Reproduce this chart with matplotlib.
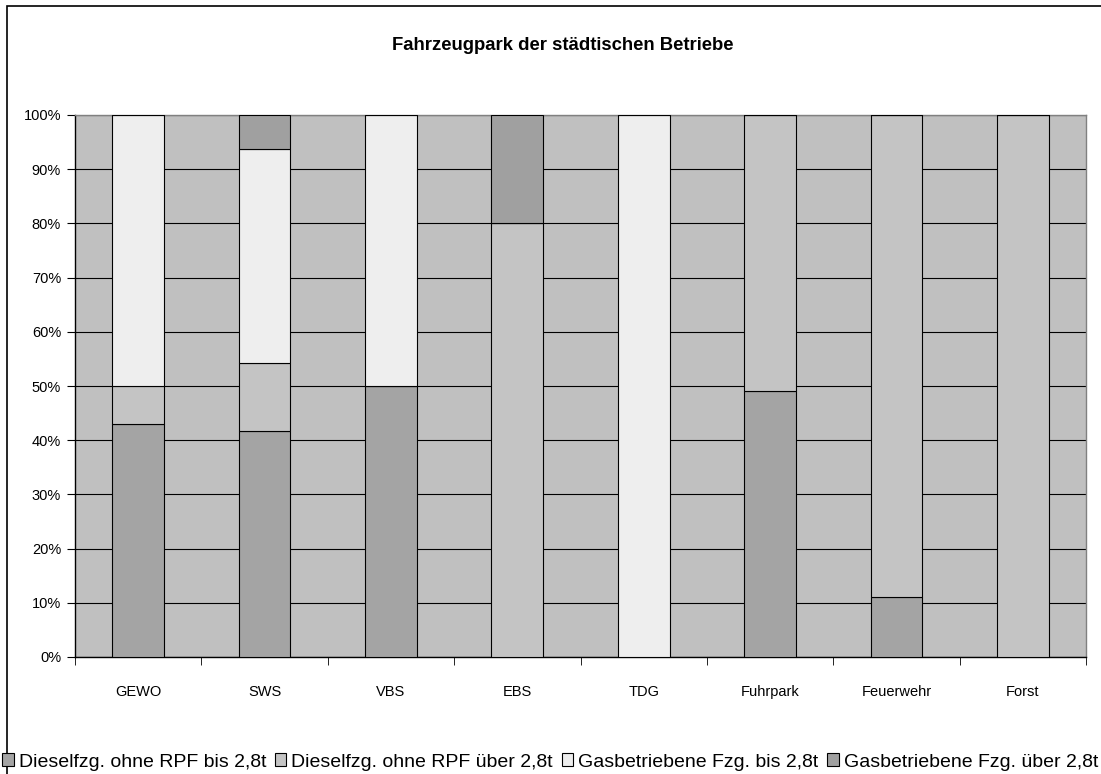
import numpy as np
import matplotlib.pyplot as plt
from matplotlib.patches import Rectangle

plt.rcParams['font.family'] = ['Liberation Sans', 'DejaVu Sans']

# Daten (Anteile in %)
betriebe = ['GEWO', 'SWS', 'VBS', 'EBS', 'TDG', 'Fuhrpark', 'Feuerwehr', 'Forst']
diesel_bis = [42.9, 41.7, 50.0, 0.0, 0.0, 49.0, 11.1, 0.0]
diesel_ueber = [7.1, 12.5, 0.0, 80.0, 0.0, 51.0, 88.9, 100.0]
gas_bis = [50.0, 39.6, 50.0, 0.0, 100.0, 0.0, 0.0, 0.0]
gas_ueber = [0.0, 6.2, 0.0, 20.0, 0.0, 0.0, 0.0, 0.0]

serien = ['Dieselfzg. ohne RPF bis 2,8t', 'Dieselfzg. ohne RPF über 2,8t',
          'Gasbetriebene Fzg. bis 2,8t', 'Gasbetriebene Fzg. über 2,8t']
farben = ['#a4a4a4', '#c4c4c4', '#eeeeee', '#a0a0a0']

fig = plt.figure(figsize=(11.01, 7.74), dpi=100)
ax = fig.add_axes([75/1101, 117/774, 1011/1101, 542/774])
ax.set_facecolor('#c0c0c0')

x = np.arange(len(betriebe))
unten = np.zeros(len(betriebe))
for werte, name, farbe in zip([diesel_bis, diesel_ueber, gas_bis, gas_ueber], serien, farben):
    ax.bar(x, werte, 0.41, bottom=unten, color=farbe, edgecolor='black', linewidth=0.8,
           label=name, zorder=3)
    unten += np.array(werte)

ax.set_xlim(-0.5, len(betriebe) - 0.5)
ax.set_ylim(0, 100)
ax.set_yticks(np.arange(0, 101, 10))
ax.set_yticklabels([f'{v}%' for v in range(0, 101, 10)], fontsize=10.5)
ax.yaxis.grid(True, color='black', linewidth=0.8, zorder=0)
ax.set_axisbelow(True)

ax.set_xticks(x)
ax.set_xticklabels(betriebe, fontsize=10.5)
ax.tick_params(axis='x', length=0, pad=20)
ax.set_xticks(np.arange(-0.5, len(betriebe), 1), minor=True)
ax.tick_params(axis='x', which='minor', length=6, direction='out', color='black')
ax.tick_params(axis='y', length=6, direction='out', color='black', pad=4)

for s in ['top', 'right']:
    ax.spines[s].set_color('#808080')
    ax.spines[s].set_linewidth(1)
for s in ['left', 'bottom']:
    ax.spines[s].set_color('black')
    ax.spines[s].set_linewidth(1)

fig.text(563/1101, 1 - 45/774, 'Fahrzeugpark der städtischen Betriebe',
         ha='center', va='center', fontsize=13.3, fontweight='bold')

fig.legend(loc='center left', bbox_to_anchor=(2/1101, 1 - 762/774), ncol=4,
           frameon=False, fontsize=14, handlelength=0.6, handleheight=0.6,
           handletextpad=0.25, columnspacing=0.45, borderaxespad=0, borderpad=0)

fig.patches.append(Rectangle((7/1101, -0.1), 1.2, 1 - 6/774 + 0.1,
                             transform=fig.transFigure, fill=False,
                             edgecolor='black', linewidth=1.2))

fig.savefig('out.png', dpi=100)
